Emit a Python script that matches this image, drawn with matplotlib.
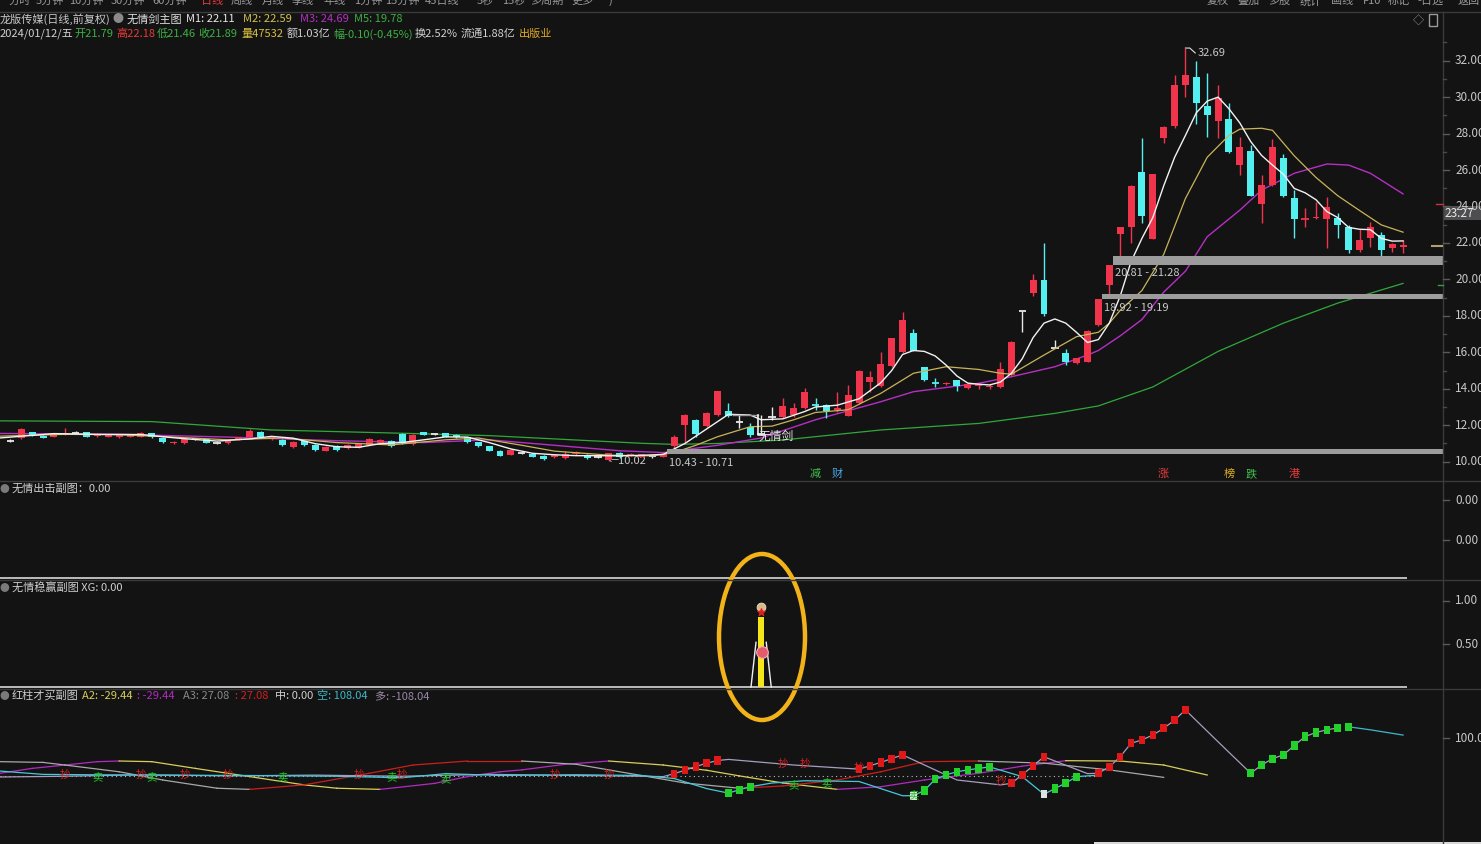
import numpy as np
import matplotlib
matplotlib.use('Agg')
import matplotlib.pyplot as plt
from matplotlib.patches import Ellipse, Rectangle

plt.rcParams['font.family'] = ['Noto Sans CJK SC', 'DejaVu Sans']

W, H = 1481, 844
BG = '#141314'
UP = '#f0344c'
DOWN = '#54f0f0'
FLAT = '#e8e8e8'
TXT = '#c8c8c8'

# ---- daily candles (index 0 .. 128, last = 2024/01/12) ----
opens = [11.15, 11.28, 11.61, 11.40, 11.37, 11.50, 11.56, 11.61, 11.41, 11.37,
         11.34, 11.37, 11.37, 11.56, 11.32, 11.01, 11.01, 11.25, 11.23, 11.04,
         11.01, 11.23, 11.34, 11.61, 11.23, 11.19, 10.82, 11.15, 10.92, 10.60,
         10.86, 10.73, 10.77, 10.92, 11.01, 11.13, 11.50, 10.95, 11.61, 11.50,
         11.56, 11.46, 11.34, 11.06, 10.86, 10.61, 10.37, 10.46, 10.42, 10.31,
         10.24, 10.18, 10.45, 10.37, 10.24, 10.07, 10.50, 10.33, 10.28, 10.29,
         10.28, 10.85, 12.01, 12.29, 11.97, 12.56, 12.78, 12.20, 11.92, 11.50,
         12.47, 12.47, 12.56, 12.93, 13.17, 13.11, 12.84, 12.53, 13.20, 14.39,
         14.16, 15.26, 15.99, 17.04, 15.17, 14.36, 14.25, 14.48, 14.03, 14.14,
         14.10, 14.12, 14.76, 18.25, 19.25, 19.97, 16.22, 15.95, 15.40, 15.49,
         17.50, 19.70, 22.50, 22.90, 25.90, 22.20, 27.74, 28.40, 30.66, 31.12,
         29.50, 28.70, 28.78, 26.27, 27.06, 24.14, 25.18, 26.68, 24.45, 23.28,
         23.35, 23.30, 23.35, 22.86, 21.61, 22.25, 22.44, 21.70, 21.79]
highs = [11.25, 11.83, 11.65, 11.45, 11.60, 11.83, 11.70, 11.65, 11.55, 11.53,
         11.48, 11.50, 11.65, 11.60, 11.35, 11.12, 11.26, 11.32, 11.26, 11.10,
         11.18, 11.38, 11.78, 11.66, 11.40, 11.22, 11.12, 11.18, 10.95, 10.86,
         10.90, 10.96, 10.98, 11.32, 11.24, 11.18, 11.55, 11.50, 11.65, 11.58,
         11.60, 11.50, 11.36, 11.08, 10.88, 10.64, 10.68, 10.55, 10.46, 10.34,
         10.40, 10.60, 10.60, 10.40, 10.30, 10.48, 10.55, 10.45, 10.42, 10.35,
         10.43, 11.45, 12.60, 12.35, 12.70, 13.90, 13.24, 12.56, 12.10, 12.56,
         13.02, 13.47, 13.24, 14.03, 13.47, 13.15, 13.84, 14.21, 15.05, 15.00,
         15.99, 16.80, 18.19, 17.26, 15.20, 14.57, 14.35, 14.50, 14.30, 14.30,
         14.25, 15.49, 16.60, 18.25, 20.30, 22.00, 16.70, 16.20, 15.70, 17.20,
         18.92, 20.81, 22.90, 25.20, 27.76, 25.80, 28.40, 31.20, 32.69, 32.00,
         31.30, 30.66, 29.68, 27.83, 27.37, 25.73, 27.69, 26.88, 24.90, 23.90,
         24.26, 24.54, 23.66, 22.98, 22.75, 23.17, 22.60, 21.98, 22.18]
lows = [11.08, 11.25, 11.42, 11.28, 11.35, 11.45, 11.50, 11.35, 11.38, 11.35,
        11.30, 11.34, 11.35, 11.30, 11.02, 10.98, 10.98, 11.18, 11.00, 10.98,
        10.98, 11.20, 11.32, 11.33, 11.20, 10.88, 10.77, 10.88, 10.58, 10.56,
        10.60, 10.70, 10.74, 10.90, 10.98, 10.82, 10.98, 10.92, 11.44, 11.44,
        11.34, 11.30, 11.02, 10.82, 10.56, 10.30, 10.34, 10.40, 10.25, 10.10,
        10.20, 10.15, 10.35, 10.15, 10.18, 10.02, 10.22, 10.30, 10.25, 10.22,
        10.25, 10.71, 11.01, 11.37, 11.90, 12.50, 12.47, 11.83, 11.37, 11.46,
        12.29, 12.40, 12.47, 12.90, 12.84, 12.38, 12.75, 12.50, 13.15, 13.84,
        14.10, 15.20, 15.95, 16.05, 14.45, 14.12, 14.20, 13.88, 13.98, 14.00,
        14.00, 14.05, 14.70, 17.10, 19.10, 18.00, 16.22, 15.30, 15.35, 15.45,
        17.45, 19.19, 21.28, 22.00, 23.10, 22.20, 27.50, 28.30, 30.00, 28.50,
        27.80, 27.76, 26.95, 25.73, 24.55, 23.08, 25.10, 24.50, 22.25, 22.90,
        23.30, 21.70, 22.25, 21.46, 21.50, 21.79, 21.30, 21.50, 21.46]
closes = [11.15, 11.78, 11.46, 11.32, 11.56, 11.58, 11.56, 11.37, 11.50, 11.50,
          11.45, 11.46, 11.56, 11.34, 11.06, 11.10, 11.23, 11.25, 11.04, 11.04,
          11.15, 11.34, 11.70, 11.37, 11.37, 10.92, 11.10, 10.92, 10.64, 10.82,
          10.64, 10.92, 10.95, 11.23, 11.19, 10.86, 11.01, 11.46, 11.46, 11.50,
          11.37, 11.34, 11.06, 10.86, 10.61, 10.33, 10.64, 10.46, 10.28, 10.13,
          10.37, 10.40, 10.47, 10.18, 10.24, 10.46, 10.24, 10.42, 10.40, 10.29,
          10.43, 11.37, 12.56, 11.51, 12.65, 13.88, 12.53, 12.20, 11.46, 11.50,
          12.47, 13.05, 12.93, 13.80, 13.13, 12.80, 12.97, 13.66, 15.00, 14.66,
          15.35, 16.77, 17.77, 16.08, 14.48, 14.33, 14.30, 14.16, 14.27, 14.18,
          14.14, 15.08, 16.59, 18.25, 19.97, 18.10, 16.22, 15.49, 15.68, 17.19,
          18.90, 20.78, 22.86, 25.14, 23.50, 25.78, 28.38, 30.66, 31.21, 29.66,
          29.02, 29.93, 27.00, 27.28, 24.59, 25.18, 27.28, 24.59, 23.30, 23.32,
          23.40, 23.99, 22.98, 21.61, 22.16, 22.89, 21.61, 21.92, 21.89]

# ---- moving averages (index, value) ----
m1_i = [-1, 4, 8, 12, 14, 16, 19, 22, 24, 26, 28, 30, 32, 34, 36, 38, 40, 42, 44, 46,
        48, 50, 52, 54, 56, 58, 60, 62, 64, 66, 68, 69, 71, 73, 74, 76, 78, 80, 81, 82,
        83, 84, 85, 86, 87, 88, 89, 90, 91, 92, 93, 94, 95, 96, 97, 98, 99, 100, 101, 102,
        103, 104, 105, 106, 107, 108, 109, 110, 111, 112, 113, 114, 115, 116, 117, 118, 119, 120, 121, 122,
        123, 124, 125, 126, 127, 128]
m1_v = [11.30, 11.54, 11.50, 11.49, 11.37, 11.26, 11.13, 11.25, 11.39, 11.29, 10.99, 10.82, 10.79, 10.99, 11.05, 11.20, 11.36, 11.35, 11.05, 10.70,
        10.46, 10.38, 10.33, 10.33, 10.32, 10.35, 10.40, 11.00, 11.80, 12.60, 12.56, 12.30, 12.35, 12.75, 13.00, 13.10, 13.45, 14.33, 15.00, 15.88,
        16.10, 16.05, 15.80, 15.30, 14.70, 14.31, 14.25, 14.21, 14.37, 14.85, 15.65, 16.81, 17.60, 17.83, 17.60, 17.09, 16.54, 16.70, 17.60, 19.08,
        20.97, 22.25, 23.39, 25.13, 26.69, 27.90, 29.14, 29.78, 30.00, 29.36, 28.58, 27.56, 26.80, 26.27, 25.77, 24.99, 24.75, 24.37, 23.72, 23.39,
        22.85, 22.75, 22.73, 22.25, 22.10, 22.11]
m2_i = [-1, 5, 10, 15, 20, 25, 30, 35, 40, 43, 47, 50, 55, 59, 61, 63, 65, 68, 70, 72,
        74, 77, 80, 83, 86, 89, 91, 92, 95, 98, 100, 101, 102, 104, 106, 108, 110, 112, 113, 115,
        116, 118, 120, 122, 124, 126, 128]
m2_v = [11.40, 11.50, 11.48, 11.35, 11.20, 11.30, 11.05, 10.92, 11.20, 11.30, 10.90, 10.58, 10.36, 10.32, 10.50, 10.90, 11.37, 11.92, 11.95, 12.30,
        12.70, 12.85, 13.75, 14.85, 15.21, 15.06, 14.85, 14.80, 15.85, 16.86, 17.10, 17.60, 18.30, 19.39, 21.37, 24.44, 26.70, 27.90, 28.24, 28.29,
        28.18, 26.78, 25.59, 24.59, 23.78, 22.99, 22.59]
m3_i = [-1, 10, 20, 30, 38, 44, 50, 56, 60, 65, 69, 74, 80, 83, 89, 92, 96, 99, 100, 102,
        104, 106, 108, 110, 113, 115, 118, 121, 123, 125, 128]
m3_v = [11.55, 11.50, 11.35, 11.15, 11.05, 11.20, 10.90, 10.60, 10.50, 10.90, 11.30, 12.30, 13.29, 13.84, 14.30, 14.66, 15.21, 15.85, 16.10, 16.90,
        17.80, 19.30, 20.45, 22.34, 23.80, 24.90, 25.82, 26.33, 26.27, 25.82, 24.69]
m5_i = [-1, 13, 24, 36, 44, 58, 61, 65, 71, 80, 89, 96, 100, 105, 111, 117, 122, 128]
m5_v = [12.24, 12.20, 11.74, 11.56, 11.43, 11.01, 10.95, 11.00, 11.19, 11.74, 12.10, 12.65, 13.06, 14.10, 16.05, 17.60, 18.70, 19.78]

# ---- gap zones: (candle before gap, low, high) ----
gap_start = [60, 100, 101]
gap_low = [10.43, 18.92, 20.81]
gap_high = [10.71, 19.19, 21.28]

# ---- info-mine markers under the candles ----
mark_i = [74, 76, 106, 112, 114, 118]
mark_txt = ['减', '财', '涨', '榜', '跌', '港']
mark_col = ['#3ec24a', '#4aa8e8', '#e83a3a', '#e0b020', '#3ec24a', '#e83a3a']

# ---- 无情稳赢副图 XG signal ----
signal_i = 69

# ---- 红柱才买副图 lines (index, value) ----
a2_i = [-1, 2, 5, 8, 10, 13, 17, 22, 27, 30, 34, 39, 42, 45, 47, 51, 55, 60, 64, 67,
        71, 76, 80, 84, 89, 93, 97, 102, 106, 110]
a2_v = [5.8, 19, 28, 37, 38.7, 37, 19, -3, -25, -34, -37, -21, -3, 10, 15, 30, 38.7, 28, 14, -1,
        -20, -37, -30, -12, 6, 25, 39.6, 38.7, 28, 1.3]
a3_i = [-1, 3, 5, 10, 14, 19, 22, 27, 33, 37, 42, 47, 52, 57, 62, 67, 71, 76, 80, 84,
        89, 95, 101, 106]
a3_v = [37, 35, 28, 10, -12, -34, -37, -25, 6, 28, 38.7, 38.7, 30, 5, -20, -34, -28, -12, 10, 37,
        38.7, 33, 15, -5]
kong_i = [-1, 5, 12, 20, 28, 36, 44, 52, 58, 60, 61, 62, 63, 64, 65, 66, 72, 78, 79, 80,
          81, 82, 87, 91, 92, 93, 94, 95, 99, 100, 101, 102, 103, 104, 105, 106, 107, 108, 111, 114,
          115, 116, 117, 118, 119, 120, 121, 122, 123, 125, 128]
kong_v = [-4, -2, 2, -1, 1, -2, 3, 0, -2, -3, 5, 14, 24, 33, 40, 43, 28, 17, 26, 35,
          45, 55, -12, -25, -21, 2, 26, 50, 5, 6, 23, 50, 86, 95, 108, 126, 148, 175, 90, 6,
          28, 45, 55, 80, 104, 115, 122, 127, 130, 122, 108]
kong_red = [61, 62, 63, 64, 65, 78, 79, 80, 81, 82, 92, 93, 94, 95,
            100, 101, 102, 103, 104, 105, 106, 107, 108]
kong_green = [114, 115, 116, 117, 118, 119, 120, 121, 122, 123]
duo_i = [-1, 3, 12, 22, 30, 36, 40, 45, 52, 58, 61, 64, 66, 67, 68, 70, 73, 78, 82, 83,
         84, 85, 86, 87, 88, 89, 90, 93, 95, 96, 97, 98, 100]
duo_v = [12, 3, 1, 0, -2, -6, 5, 0, 2, 0, -8, -35, -47, -38, -30, -20, -14, -16, -54, -54,
         -40, -10, 2, 10, 15, 19, 23, -3, -50, -35, -20, -3, 1]
duo_green = [66, 67, 68, 84, 85, 86, 87, 88, 89, 90, 96, 97, 98]
duo_white = [83, 95]
chao_i = [5, 12, 16, 20, 32, 36, 50, 55, 71, 73, 78, 91]
chao_v = [2, 2, 2, 2, 2, 2, 2, 2, 32, 32, 19, -16]
mai_i = [8, 13, 25, 35, 40, 72, 75, 83]
mai_v = [-4, -4, -4, -4, -10, -25, -22, -52]

# ------------------------------------------------------------------
fig = plt.figure(figsize=(W / 100, H / 100), dpi=100, facecolor=BG)


def box(x0, y0, x1, y1):
    return [x0 / W, 1 - y1 / H, (x1 - x0) / W, (y1 - y0) / H]


def fx(x):
    return x / W


def fy(y):
    return 1 - y / H


XL = (-10.4 / 10.88, (1443 - 10.4) / 10.88)

ax = fig.add_axes(box(0, 12, 1443, 481))
ax1 = fig.add_axes(box(0, 481, 1443, 580))
ax2 = fig.add_axes(box(0, 580, 1443, 689))
ax3 = fig.add_axes(box(0, 689, 1443, 844))
for a in (ax, ax1, ax2, ax3):
    a.set_facecolor(BG)
    a.set_xlim(*XL)
    a.set_xticks([])
    a.set_yticks([])
    for s in a.spines.values():
        s.set_visible(False)

ax.set_ylim(8.941, 34.668)
ax1.set_ylim(-0.0206, 1)
ax2.set_ylim(-0.023, 1.244)
ax3.set_ylim(-182.9, 231)

# ---- candles ----
idx = np.arange(len(closes))
o = np.array(opens); c = np.array(closes); hi = np.array(highs); lo = np.array(lows)
cols = np.where(c > o, UP, np.where(c < o, DOWN, FLAT))
ax.vlines(idx, lo, hi, colors=cols, lw=1.0, zorder=3)
body = np.abs(c - o)
big = body >= 0.04
ax.bar(idx[big], body[big], bottom=np.minimum(o, c)[big], width=0.64,
       color=cols[big], linewidth=0, zorder=4)
ax.hlines(c[~big], idx[~big] - 0.34, idx[~big] + 0.34, colors=cols[~big], lw=1.3, zorder=4)

# ---- moving averages ----
ax.plot(m5_i, m5_v, color='#2fa83a', lw=0.9, zorder=2)
ax.plot(m3_i, m3_v, color='#b62fc4', lw=1.0, zorder=2)
ax.plot(m2_i, m2_v, color='#c9b45a', lw=0.9, zorder=5)
ax.plot(m1_i, m1_v, color='#f2f2f2', lw=1.0, zorder=5)

# ---- gap zones ----
for g, l, h in zip(gap_start, gap_low, gap_high):
    ax.fill_between([g + 0.32, XL[1]], l, h, color='#9c9c9c', lw=0, zorder=6)
ax.text(60.5, 9.93, '10.43 - 10.71', color=TXT, fontsize=8, va='center', ha='left')
ax.text(100.5, 18.43, '18.92 - 19.19', color=TXT, fontsize=8, va='center', ha='left', zorder=7)
ax.text(101.5, 20.36, '20.81 - 21.28', color=TXT, fontsize=8, va='center', ha='left', zorder=7)

# high / low labels
ax.plot([108, 108.4, 108.9], [highs[108], highs[108], 32.42], color='#e0e0e0', lw=0.8)
ax.text(109.1, 32.42, '32.69', color=TXT, fontsize=8, va='center', ha='left')
ax.text(54.9, 10.04, '←10.02', color=TXT, fontsize=8, va='center', ha='left')

# 无情剑 sword mark
ax.plot([66.4, 68.7], [12.56, 12.56], color='#9a9a9a', lw=1.0, zorder=6)
ax.plot([68.7, 68.7, 69.4], [12.56, 11.46, 11.46], color='#f0f0f0', lw=1.2, zorder=6)
ax.text(68.8, 11.41, '无情剑', color='#e6e6e6', fontsize=8.5, va='center', ha='left', zorder=7)

for mi, mt, mc in zip(mark_i, mark_txt, mark_col):
    ax.text(mi, 9.33, mt, color=mc, fontsize=8, va='center', ha='center')

# ---- sub panel 1 ----
ax1.hlines(0, XL[0], 128.4, color='#d8d8d8', lw=1.2)

# ---- sub panel 2 : XG spike ----
ax2.hlines(0, XL[0], 128.4, color='#d8d8d8', lw=1.2)
ax2.bar(signal_i, 0.81, width=0.6, color='#f5e61a', zorder=3)
ax2.plot([signal_i - 0.93, signal_i - 0.47], [0, 0.52], color='#f0f0f0', lw=1.0, zorder=4)
ax2.plot([signal_i + 0.93, signal_i + 0.47], [0, 0.52], color='#f0f0f0', lw=1.0, zorder=4)
ax2.scatter([signal_i + 0.1], [0.41], s=70, color='#e45a6c', edgecolor='#f3b0b8', lw=0.8, zorder=5)
ax2.scatter([signal_i], [0.93], s=40, color='#d9b98a', edgecolor='#f0e0c0', lw=0.6, zorder=5)
ax2.scatter([signal_i], [0.87], s=28, marker='*', color='#e02020', zorder=6)

# ---- sub panel 3 ----
ax3.hlines(0, -1, 100, color='#bbbbbb', lw=0.8, linestyles=(0, (1, 3)))


def slope_line(a, xs, ys, up, down, lw=0.9):
    for j in range(len(xs) - 1):
        col = up if ys[j + 1] >= ys[j] else down
        a.plot(xs[j:j + 2], ys[j:j + 2], color=col, lw=lw, zorder=3)


slope_line(ax3, a2_i, a2_v, '#b02cc0', '#d8cf5a')
slope_line(ax3, a3_i, a3_v, '#c8201c', '#a8a8a8')
ax3.plot(kong_i[:-3], kong_v[:-3], color='#a89cc0', lw=0.9, zorder=3)
ax3.plot(kong_i[-3:], kong_v[-3:], color='#3cb8c8', lw=0.9, zorder=3)
ax3.plot(duo_i, duo_v, color='#48c8d8', lw=0.9, zorder=3)
kd = dict(zip(kong_i, kong_v))
dd = dict(zip(duo_i, duo_v))
ax3.bar(kong_red, 22, bottom=[kd[k] - 11 for k in kong_red], width=0.6, color='#e01818', zorder=4)
ax3.bar(kong_green, 22, bottom=[kd[k] - 11 for k in kong_green], width=0.6, color='#22d22a', zorder=4)
ax3.bar(duo_green, 22, bottom=[dd[k] - 11 for k in duo_green], width=0.6, color='#22d22a', zorder=4)
ax3.bar(duo_white, 22, bottom=[dd[k] - 11 for k in duo_white], width=0.6, color='#e0e0e0', zorder=4)
for ci, cv in zip(chao_i, chao_v):
    ax3.text(ci, cv, '抄', color='#e02020', fontsize=7.5, ha='center', va='center', zorder=5)
for ci, cv in zip(mai_i, mai_v):
    ax3.text(ci, cv, '卖', color='#22c82a', fontsize=7.5, ha='center', va='center', zorder=5)

# ---- frame lines ----
def hline_px(y, x0, x1, col, lw=1.0):
    fig.add_artist(plt.Line2D([fx(x0), fx(x1)], [fy(y), fy(y)], color=col, lw=lw))


hline_px(11.5, 0, W, '#3a3a3a')
hline_px(481, 0, W, '#3a3a3a')
hline_px(580, 0, W, '#3a3a3a')
hline_px(689, 0, W, '#3a3a3a')
fig.add_artist(plt.Line2D([fx(1443), fx(1443)], [fy(12), fy(H)], color='#3a3a3a', lw=1.0))

# ---- right axis labels ----
def rlabel(y, s):
    fig.text(fx(1455), fy(y), s, color=TXT, fontsize=8.5, va='center', ha='left')
    hline_px(y, 1443, 1449, '#5a5a5a')


for p in range(10, 34, 2):
    rlabel(461.7 - (p - 10) * 18.23, '%.2f' % p)
for p in range(11, 34, 2):
    hline_px(461.7 - (p - 10) * 18.23, 1443, 1446, '#4a4a4a')
rlabel(500, '0.00')
rlabel(540, '0.00')
rlabel(601, '1.00')
rlabel(644, '0.50')
rlabel(738, '100.0')

# current price tag
fig.add_artist(Rectangle((fx(1443), fy(220)), fx(38), 14 / H, color='#4e4e50', lw=0))
fig.text(fx(1444), fy(213), '23.27', color='#e8e8e8', fontsize=8.5, va='center', ha='left')
hline_px(204, 1436, 1443, '#d03040')
hline_px(245.7, 1432, 1442, '#b0a070', lw=1.5)
hline_px(285, 1438, 1443, '#30a040')

# ---- header ----
top_items = [('分时', 20), ('5分钟', 50), ('10分钟', 86), ('30分钟', 128), ('60分钟', 170),
             ('日线', 212), ('周线', 242), ('月线', 273), ('季线', 303), ('年线', 335),
             ('1分钟', 368), ('15分钟', 402), ('45日线', 442), ('5秒', 485), ('15秒', 514),
             ('多周期', 547), ('更多', 583), (')', 610)]
for s, x in top_items:
    fig.text(fx(x), fy(1), s, color='#e83a3a' if s == '日线' else '#9a9a9a',
             fontsize=8, va='center', ha='center')
for s, x in [('复权', 1218), ('叠加', 1248), ('多股', 1279), ('统计', 1311), ('画线', 1342),
             ('F10', 1372), ('标记', 1399), ('-日选', 1431), ('返回', 1469)]:
    fig.text(fx(x), fy(1), s, color='#9a9a9a', fontsize=8, va='center', ha='center')

row1 = [('龙版传媒(日线,前复权)', 0, '#c8c8c8'), ('无情剑主图', 127, '#e0e0e0'),
        ('M1: 22.11', 186, '#e8e8e8'), ('M2: 22.59', 243, '#d2c24e'),
        ('M3: 24.69', 300, '#b62fc4'), ('M5: 19.78', 354, '#3cb043')]
for s, x, col in row1:
    fig.text(fx(x), fy(19), s, color=col, fontsize=8, va='center', ha='left')
fig.text(fx(118), fy(19), '●', color='#8a8a8a', fontsize=8, va='center', ha='center')

row2 = [('2024/01/12/五', 0, '#d0d0d0'), ('开21.79', 74, '#3cb043'), ('高22.18', 116, '#e83a3a'),
        ('低21.46', 157, '#3cb043'), ('收21.89', 198, '#3cb043'), ('量47532', 241, '#d8c040'),
        ('额1.03亿', 287, '#d0d0d0'), ('幅-0.10(-0.45%)', 333, '#3cb043'),
        ('换2.52%', 415, '#d0d0d0'), ('流通1.88亿', 461, '#d0d0d0'), ('出版业', 519, '#e0a820')]
for s, x, col in row2:
    fig.text(fx(x), fy(34), s, color=col, fontsize=8, va='center', ha='left')

fig.text(fx(1418), fy(20), '◇', color='#9a9a9a', fontsize=8, va='center', ha='center')
fig.add_artist(Rectangle((fx(1429), fy(26)), 8 / W, 12 / H, fill=False, ec='#9a9a9a', lw=1))

# panel titles
for y, s in [(489, '无情出击副图：0.00'), (588, '无情稳赢副图 XG: 0.00')]:
    fig.text(fx(4), fy(y), '●', color='#7a7a7a', fontsize=7, va='center', ha='center')
    fig.text(fx(12), fy(y), s, color='#d0d0d0', fontsize=8, va='center', ha='left')
fig.text(fx(4), fy(696), '●', color='#7a7a7a', fontsize=7, va='center', ha='center')
row3 = [('红柱才买副图', 12, '#d0d0d0'), ('A2: -29.44', 82, '#d8cf5a'), (': -29.44', 137, '#b02cc0'),
        ('A3: 27.08', 183, '#8a8a8a'), (': 27.08', 235, '#d02020'), ('中: 0.00', 275, '#d0d0d0'),
        ('空: 108.04', 317, '#3cb8c8'), ('多: -108.04', 375, '#9a88a8')]
for s, x, col in row3:
    fig.text(fx(x), fy(696), s, color=col, fontsize=8, va='center', ha='left')

# highlight ellipse
fig.add_artist(Ellipse((fx(762), fy(637)), 86 / W, 166 / H, fill=False,
                       ec='#f2b219', lw=3.2))
# light strip at the bottom
fig.add_artist(Rectangle((fx(1094), 0), (W - 1094) / W, 2 / H, color='#d8d8d8', lw=0))

fig.savefig('out.png', dpi=100, facecolor=BG)
